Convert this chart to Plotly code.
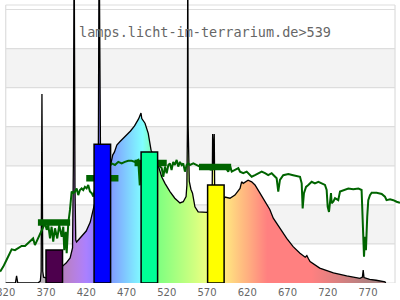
import plotly.graph_objects as go

# ---------------- data ----------------
# lamp spectrum (black outline, rainbow fill)
lamp_nm = [320, 332, 333.5, 335, 360, 363, 364, 365, 366, 367, 370, 375, 380, 385, 390, 395, 400,
           403, 404, 405, 406, 407, 408, 410, 415, 420, 425, 428, 430, 434, 435, 436, 437, 438,
           442, 446, 450, 453, 455, 458, 462, 465, 468, 472, 475, 480, 483, 485, 487, 488, 489,
           493, 497, 499, 500.5, 505, 509.5, 513.7, 517.8, 524, 530, 536.4, 540.5, 544, 545,
           545.7, 546.1, 546.6, 548, 550, 552, 555, 559, 565, 570, 575, 576.5, 577, 578, 579,
           579.5, 581, 585, 590, 592.3, 598.5, 604.7, 611, 613, 615, 621, 625.5, 629.6, 635.8,
           644, 648, 652.3, 660.6, 669, 677, 685.5, 692, 694, 696, 698, 710, 727, 743.5, 760,
           763, 764, 765, 772, 780, 791, 792]
lamp_val = [0, 0, 0.18, 0, 0, 0.05, 0.3, 4.84, 0.3, 0.15, 0.13, 0.12, 0.15, 0.25, 0.42, 0.51, 0.64,
            0.9, 3.0, 9.0, 2.5, 1.1, 1.05, 1.10, 1.23, 1.33, 1.56, 1.87, 2.0, 2.2, 3.0, 9.0, 3.0, 2.4,
            2.5, 2.7, 3.0, 3.28, 3.35, 3.53, 3.62, 3.68, 3.74, 3.84, 3.89, 4.02, 4.12, 4.2, 4.3, 4.35, 4.21,
            4.09, 3.83, 3.57, 3.40, 3.2, 3.0, 2.72, 2.55, 2.34, 2.17, 2.05, 2.08, 2.21, 2.5,
            4.0, 9.0, 4.0, 2.6, 2.4, 2.3, 1.95, 1.82, 1.81, 1.81, 1.9, 2.5, 3.81, 3.0, 3.81,
            2.5, 2.0, 2.0, 2.1, 2.2, 2.17, 2.25, 2.42, 2.59, 2.55, 2.63, 2.59, 2.51, 2.30,
            2.0, 1.88, 1.66, 1.40, 1.14, 0.93, 0.76, 0.66, 0.70, 0.62, 0.55, 0.38, 0.26, 0.18, 0.12,
            0.15, 0.33, 0.14, 0.095, 0.07, 0.03, 0]

# daylight reference spectrum (green line)
sun_nm = [313, 317, 321, 325.3, 327.4, 331.5, 335.6, 339.8, 344, 348, 352, 354, 356.3, 358.4,
          362.5, 364.7, 366.7, 368.8, 370.9, 372.9, 375, 377, 379, 381.2, 384, 386.5, 389.5,
          391.5, 392.7, 394.5, 395.7, 397.7, 399.8, 401, 401.9, 404, 406, 408.1, 410.1, 412.2,
          414.3, 416.3, 418.4, 420.5, 422.5, 424.6, 426.8, 428.8, 432, 440, 446,
          451.6, 455.7, 459.8, 464, 468, 472.2, 476.4, 480.5, 484.6, 486.5, 487.6, 495, 503,
          509.5, 513.7, 515.7, 517.8, 519.9, 522, 524, 526, 528, 530, 532.3, 534.3, 536.4, 538.5,
          540.5, 542.6, 544.7, 546.7, 548.8, 553, 557, 561, 569.6, 575, 586, 592.3, 596.4, 598.6,
          600.7, 604.7, 608.9, 611, 615, 619.3, 623.4, 625.5, 629.6, 633.7, 637.9, 642, 646,
          650.3, 654.4, 656.5, 658.5, 660.6, 664.7, 671, 677, 681.4, 685.5, 687.6, 688.8, 690.4,
          693, 695.8, 700, 704, 708.3, 712.4, 716.5, 718.6, 719.9, 721.5, 722.7, 724, 724.8,
          726.8, 729, 733, 735.2, 739.3, 745.5, 751.7, 758, 762, 763.3, 764, 765, 766.2, 767.4,
          769, 770.3, 772.4, 774.5, 780.7, 787, 791, 793, 797.3, 801.4, 805.5, 809.7]
sun_val = [0.29, 0.42, 0.59, 0.76, 0.86, 0.84, 0.89, 0.95, 0.95, 1.02, 1.10, 1.14, 0.97, 1.06,
           1.23, 1.36, 1.44, 1.53, 1.36, 1.48, 1.14, 1.44, 1.06, 1.40, 1.14, 1.48, 1.18,
           1.44, 0.84, 1.31, 0.76, 1.53, 1.87, 2.12, 2.34, 2.30, 2.34, 2.42, 2.25, 2.38,
           2.42, 2.38, 2.46, 2.42, 2.51, 2.34, 2.30, 2.21, 2.5, 2.8, 2.9,
           3.06, 3.02, 3.10, 3.06, 3.10, 3.13, 3.13, 3.10, 3.15, 2.5, 3.0, 3.1, 3.1,
           3.02, 2.94, 2.72, 2.98, 2.81, 3.02, 3.06, 2.89, 3.10, 3.02, 3.15, 2.98, 3.10, 3.02,
           3.06, 2.85, 3.02, 3.06, 3.02, 3.06, 3.02, 2.98, 2.94, 2.9, 3.02, 2.98, 2.85, 3.0,
           2.85, 2.89, 2.94, 2.85, 2.81, 2.85, 2.76, 2.72, 2.76, 2.81, 2.85, 2.81, 2.76,
           2.81, 2.72, 2.68, 2.34, 2.64, 2.76, 2.79, 2.76, 2.74, 2.72, 2.55, 1.91, 2.30,
           2.46, 2.51, 2.59, 2.55, 2.59, 2.55, 2.51, 2.38, 1.95, 1.82, 2.12, 2.30, 2.04,
           2.08, 2.17, 2.12, 2.34, 2.38, 2.42, 2.40, 2.42, 2.38, 1.70, 1.02, 0.67, 1.18, 0.84,
           1.70, 2.12, 2.25, 2.31, 2.31, 2.28, 2.21, 2.12, 2.14, 2.12, 2.08, 2.05]

# colour bands (bars) and their reference levels (thick green segments)
bar_center = [380.3, 440, 498.4, 581]
bar_height = [0.845, 3.55, 3.35, 2.51]
seg_center = [380, 440, 500, 580]
seg_value = [1.55, 2.68, 3.07, 2.97]

tick_vals = [320, 370, 420, 470, 520, 570, 620, 670, 720, 770]
title_text = "lamps.licht-im-terrarium.de&gt;539"

# ---------------- styles ----------------
BAR_W = 20.5
SEG_HALF = 20
bar_colors = ["#4d004d", "#0000ff", "#00ff96", "#ffff00"]
X0, X1 = 312.9, 809.7
Y_TOP = 7.243
FRAME_L, FRAME_R, FRAME_T = 320, 803.5, 7.115


def spectral(nm):
    if nm < 380:
        return (0.44, 0.40, 0.44)
    if nm < 440:
        r, g, b = -(nm - 440) / 60, 0, 1
    elif nm < 490:
        r, g, b = 0, (nm - 440) / 50, 1
    elif nm < 510:
        r, g, b = 0, 1, -(nm - 510) / 20
    elif nm < 580:
        r, g, b = (nm - 510) / 70, 1, 0
    elif nm < 645:
        r, g, b = 1, -(nm - 645) / 65, 0
    else:
        r, g, b = 1, 0, 0
    if nm < 420:
        f = 0.3 + 0.7 * (nm - 380) / 40
    elif nm > 700:
        f = 0.3 + 0.7 * max(0, 780 - nm) / 80
    else:
        f = 1
    return (r * f, g * f, b * f)


def pastel(nm):
    r, g, b = spectral(nm)
    return "rgb(%d,%d,%d)" % tuple(round(255 * (0.5 + 0.5 * c)) for c in (r, g, b))


grad_nm = list(range(320, 801, 5))
colorscale = [[(n - 320) / 480, pastel(n)] for n in grad_nm]

fig = go.Figure()

# lamp spectrum with rainbow gradient fill
fig.add_trace(go.Scatter(
    x=lamp_nm, y=lamp_val, mode="lines", fill="tozeroy",
    fillgradient=dict(type="horizontal", colorscale=colorscale, start=320, stop=800),
    line=dict(color="black", width=1.3), hoverinfo="skip", showlegend=False))

# daylight line
fig.add_trace(go.Scatter(
    x=sun_nm, y=sun_val, mode="lines", line=dict(color="#006400", width=2),
    hoverinfo="skip", showlegend=False))

# reference segments
sx, sy = [], []
for c, v in zip(seg_center, seg_value):
    sx += [c - SEG_HALF, c + SEG_HALF, None]
    sy += [v, v, None]
fig.add_trace(go.Scatter(x=sx, y=sy, mode="lines", line=dict(color="#006400", width=6.5),
                         hoverinfo="skip", showlegend=False))

# bars as filled polygons so they stay on top
for c, h, col in zip(bar_center, bar_height, bar_colors):
    l, r = c - BAR_W / 2, c + BAR_W / 2
    fig.add_trace(go.Scatter(x=[l, l, r, r, l], y=[0, h, h, 0, 0], mode="lines",
                             fill="toself", fillcolor=col, line=dict(color="black", width=1.5),
                             hoverinfo="skip", showlegend=False))

shapes = []
for lo in (1, 3, 5):
    shapes.append(dict(type="rect", xref="x", yref="y", x0=FRAME_L, x1=FRAME_R, y0=lo, y1=lo + 1,
                       fillcolor="#f3f3f3", line=dict(width=0), layer="below"))
for g in range(0, 8):
    shapes.append(dict(type="line", xref="x", yref="y", x0=FRAME_L, x1=FRAME_R, y0=g, y1=g,
                       line=dict(color="#dddddd", width=1.2), layer="below"))
shapes.append(dict(type="line", xref="x", yref="y", x0=FRAME_L, x1=FRAME_R, y0=FRAME_T, y1=FRAME_T,
                   line=dict(color="#dddddd", width=1.2), layer="below"))
for xv in (FRAME_L, FRAME_R):
    shapes.append(dict(type="line", xref="x", yref="y", x0=xv, x1=xv, y0=0, y1=FRAME_T,
                       line=dict(color="#dddddd", width=1.2), layer="below"))

fig.update_layout(
    width=400, height=300,
    margin=dict(l=0, r=0, t=0, b=17, pad=0),
    paper_bgcolor="white", plot_bgcolor="white",
    showlegend=False,
    shapes=shapes,
    xaxis=dict(range=[X0, X1], tickvals=tick_vals, ticktext=[str(t) for t in tick_vals],
               showgrid=False, zeroline=False, showline=False, ticks="", automargin=False,
               ticklabeloverflow="allow", ticklabelstandoff=2,
               tickfont=dict(family="DejaVu Sans", size=10, color="#666666")),
    yaxis=dict(range=[0, Y_TOP], showgrid=False, zeroline=False, showline=False,
               showticklabels=False, ticks="", automargin=False),
    annotations=[dict(text=title_text, xref="paper", yref="paper", x=0.5125, y=(283 - 32) / 283,
                      xanchor="center", yanchor="middle", showarrow=False,
                      font=dict(family="DejaVu Sans Mono", size=13.5, color="#666666"))],
)

fig.write_html("out.html")
